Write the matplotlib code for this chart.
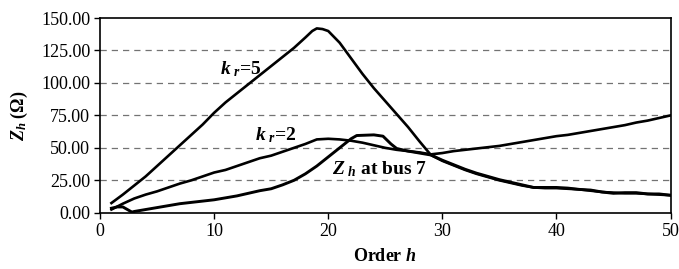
import matplotlib
matplotlib.use("Agg")
import matplotlib.pyplot as plt
import numpy as np

plt.rcParams["font.family"] = "Liberation Serif"
plt.rcParams["mathtext.fontset"] = "custom"
plt.rcParams["mathtext.rm"] = "Liberation Serif:bold"
plt.rcParams["mathtext.it"] = "Liberation Serif:italic:bold"
plt.rcParams["mathtext.bf"] = "Liberation Serif:bold"

# harmonic order and impedance readings (ohm)
h_kr5 = [1, 2, 3, 4, 5, 6, 7, 8, 9, 10, 11, 12, 13, 14, 15, 16, 17, 18, 18.6, 19, 19.5,
         20, 21, 22, 23, 24, 25, 26, 27, 28, 29, 30, 31, 32, 33, 34, 35, 36, 37, 38,
         39, 40, 41, 42, 43, 44, 45, 46, 47, 48, 49, 50]
z_kr5 = [7.5, 14, 21, 28, 36, 44, 52, 60, 68, 77, 85, 92, 99, 106, 113, 120, 127, 135, 140, 142, 141.5,
         140, 131, 119, 107, 96, 86, 76, 66, 55, 44.5, 40, 36.5, 33, 30, 27.5, 25, 23, 21, 19.5,
         19, 19, 18.5, 18, 17, 16, 15.5, 15, 15, 14.5, 14, 13.5]

h_kr2 = [1, 2, 3, 4, 5, 6, 7, 8, 9, 10, 11, 12, 13, 14, 15, 16, 17, 18, 19, 20,
         21, 22, 23, 24, 25, 26, 27, 28, 29, 30, 31, 32, 33, 34, 35, 36, 37, 38, 39,
         40, 41, 42, 43, 44, 45, 46, 47, 48, 49, 50]
z_kr2 = [2.5, 7, 11, 14, 16.5, 19.5, 22.5, 25, 28, 31, 33, 36, 39, 42, 44, 47, 50, 53, 56.5, 57,
         56.5, 55.5, 54, 52, 50, 48.5, 47.5, 46.5, 45, 46, 47.5, 48.5, 49.5, 50.5, 51.5, 53, 54.5, 56, 57.5,
         59, 60, 61.5, 63, 64.5, 66, 67.5, 69.5, 71, 73, 75]

h_bus7 = [1, 1.5, 2, 2.5, 2.8, 3, 4, 5, 6, 7, 8, 9, 10, 11, 12, 13, 14, 15, 16, 17,
          18, 19, 20, 21, 22, 22.5, 24, 24.8, 25.5, 26, 27, 28, 29, 30, 31, 32, 33, 34,
          35, 36, 37, 38, 40, 41, 42, 43, 44, 45, 46, 47, 48, 49, 50]
z_bus7 = [3.5, 4.5, 4.5, 2, 0.5, 1, 2.5, 4, 5.5, 7, 8, 9, 10, 11.5, 13, 15, 17, 18.5, 21.5, 25,
          30, 36, 43, 50, 57, 59.5, 60, 59, 53, 49.5, 47.5, 46, 44.5, 40.5, 37, 33.5, 30.5, 28,
          25.5, 23.5, 21.5, 19.5, 19.5, 19, 18, 17.5, 16, 15, 15.5, 15.5, 14.5, 14.5, 13.5]

yticks = [0, 25, 50, 75, 100, 125, 150]
xticks = [0, 10, 20, 30, 40, 50]

fig = plt.figure(figsize=(6.79, 2.69), dpi=100)
ax = fig.add_axes([0.1473, 0.209, 0.8402, 0.724])

for yv in yticks[1:-1]:
    ax.axhline(yv, color="0.45", lw=0.9, ls=(0, (5, 4)), zorder=1)

ax.plot(h_kr5, z_kr5, color="black", lw=1.9, zorder=3)
ax.plot(h_kr2, z_kr2, color="black", lw=1.9, zorder=3)
ax.plot(h_bus7, z_bus7, color="black", lw=2.1, zorder=3)

ax.text(12.3, 111, r"$k_{\ r}$=5", fontsize=14, fontweight="bold", ha="center", va="center")
ax.text(15.4, 60, r"$k_{\ r}$=2", fontsize=14, fontweight="bold", ha="center", va="center")
ax.text(20.3, 33.5, r"$Z_{\ h}$ at bus 7", fontsize=14, fontweight="bold", ha="left", va="center")

ax.set_xlim(0, 50)
ax.set_ylim(0, 150)
ax.set_xticks(xticks)
ax.set_yticks(yticks)
ax.set_yticklabels(["%.2f" % v for v in yticks])
ax.tick_params(direction="out", length=4, width=1, labelsize=13, pad=3)
for sp in ax.spines.values():
    sp.set_linewidth(1.2)

ax.set_xlabel(r"Order $h$", fontsize=13, fontweight="bold", labelpad=6)
ax.set_ylabel(r"$Z_{h}$ (Ω)", fontsize=13, fontweight="bold", labelpad=8)

plt.savefig("out.png", dpi=100)
